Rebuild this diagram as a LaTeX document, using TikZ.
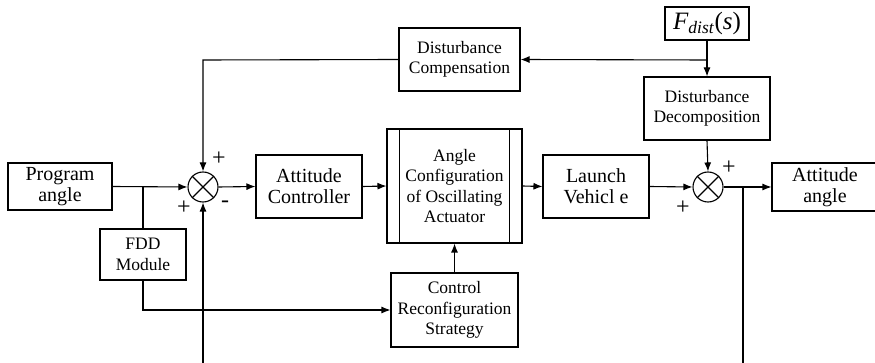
\documentclass[tikz,border=0pt]{standalone}
\usepackage{fontspec}
\IfFontExistsTF{LiberationSerif-Regular.ttf}
  {\setmainfont{LiberationSerif-Regular.ttf}[ItalicFont=LiberationSerif-Italic.ttf,BoldFont=LiberationSerif-Bold.ttf]}
  {\setmainfont{Liberation Serif}}
\usetikzlibrary{arrows.meta}
\begin{document}
\begin{tikzpicture}[x=1pt,y=-1pt,
  line width=1.1pt,
  >={Latex[length=9pt,width=7pt]},
  blk/.style={draw,rectangle,align=center,inner sep=0pt,font=\fontsize{20}{21}\selectfont},
  sblk/.style={draw,rectangle,align=center,inner sep=0pt,font=\fontsize{17.5}{20.5}\selectfont},
  summer/.style={draw,circle,minimum size=30pt,inner sep=0pt},
  sgn/.style={font=\fontsize{24}{24}\selectfont,inner sep=0pt}]
\clip (0,0) rectangle (875,363);

% main forward path
\node[blk,minimum width=104pt,minimum height=47pt] (prog) at (60,186.5) {Program\\angle};
\node[summer] (s1) at (203,187) {};
\node[blk,minimum width=106pt,minimum height=63pt] (ctrl) at (309,186.5) {Attitude\\Controller};
\node[sblk,minimum width=135pt,minimum height=114pt] (act) at (454.5,186) {Angle\\Configuration\\of Oscillating\\Actuator};
\node[blk,minimum width=106pt,minimum height=63pt] (lv) at (596,186.5) {Launch\\Vehicl e};
\node[summer] (s2) at (708,187) {};
\node[blk,minimum width=106pt,minimum height=48pt] (out) at (825,187) {Attitude\\angle};

% fault handling and disturbance blocks
\node[sblk,minimum width=86pt,minimum height=51pt] (fdd) at (143,254.5) {FDD\\Module};
\node[sblk,minimum width=127pt,minimum height=74pt] (crs) at (454.5,310) {Control\\Reconfiguration\\Strategy};
\node[sblk,minimum width=121pt,minimum height=63pt] (dc) at (459.5,59.5) {Disturbance\\Compensation};
\node[sblk,minimum width=126pt,minimum height=63pt] (dd) at (707,108.5) {Disturbance\\Decomposition};
\node[draw,rectangle,minimum width=84pt,minimum height=33pt,inner sep=0pt,font=\fontsize{25}{25}\selectfont] (fd) at (707,23.5) {\textit{F}\textsubscript{\textit{dist}}(\textit{s})};

% actuator side bars
\draw ([xshift=13pt]act.north west) -- ([xshift=13pt]act.south west);
\draw ([xshift=-13pt]act.north east) -- ([xshift=-13pt]act.south east);

% summing junction crosses
\foreach \s in {s1,s2}{
  \draw (\s.north east) -- (\s.south west);
  \draw (\s.north west) -- (\s.south east);
}

% named points
\coordinate (b1) at (143,187);
\coordinate (fddc) at (143,310);
\coordinate (b2) at (743,187);
\coordinate (fbin) at (203,363);
\coordinate (fbout) at (743,363);
\coordinate (dsplit) at (707,60);
\coordinate (dcorner) at (203,60);

% forward connectors
\draw[->] (prog.east) -- (s1.west);
\draw[->] (s1.east) -- (ctrl.west);
\draw[->] (ctrl.east) -- (act.west);
\draw[->] (act.east) -- (lv.west);
\draw[->] (lv.east) -- (s2.west);
\draw[->] (s2.east) -- (out.west);

% fault path
\draw (b1) -- (fdd.north);
\draw[->] (fdd.south) -- (fddc) -- (crs.west);
\draw[->] (crs.north) -- (act.south);

% feedback lines
\draw[->] (fbin) -- (s1.south);
\draw (b2) -- (fbout);

% disturbance paths
\draw[->] (fd.south) -- (dd.north);
\draw[->] (dsplit) -- (dc.east);
\draw[->] (dc.west) -- (dcorner) -- (s1.north);
\draw[->] (dd.south) -- (s2.north);

% signs
\node[sgn] at (219,159) {+};
\node[sgn] at (184,208) {+};
\node[sgn] at (225,204) {-};
\node[sgn] at (729,168) {+};
\node[sgn] at (683,208) {+};
\end{tikzpicture}
\end{document}
